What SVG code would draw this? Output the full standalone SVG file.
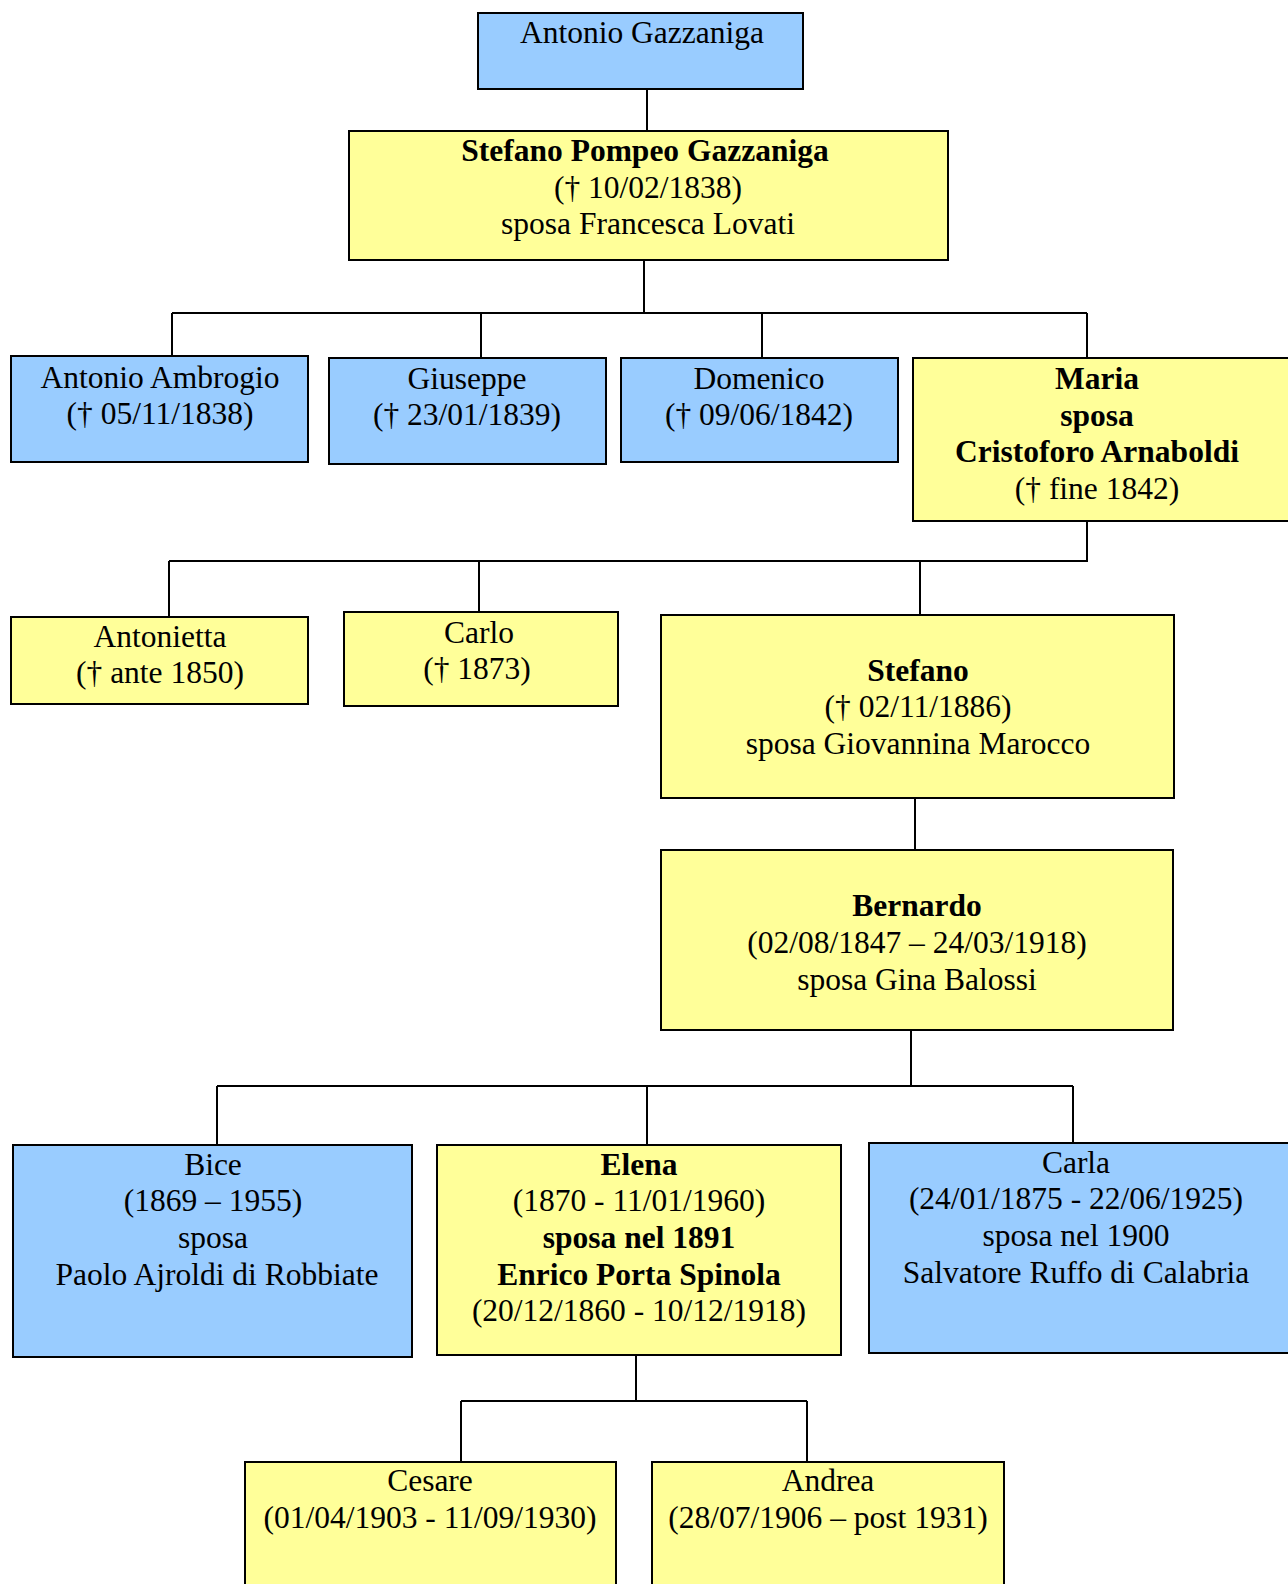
<svg xmlns="http://www.w3.org/2000/svg" width="1288" height="1584" viewBox="0 0 1288 1584">
<style>
.b{fill:#99CCFF;stroke:#000;stroke-width:2}
.y{fill:#FFFF99;stroke:#000;stroke-width:2}
text{font-family:"Liberation Serif","Times New Roman",serif;font-size:31.5px;fill:#000;text-anchor:middle}
.bd{font-weight:bold}
.c{fill:none;stroke:#000;stroke-width:2}
</style>
<rect width="1288" height="1584" fill="#fff"/>
<g id="connectors">
<path class="c" d="M647 89V131"/>
<path class="c" d="M644 260V313M172 313H1087M172 313V356M481 313V358M762 313V358M1087 313V358"/>
<path class="c" d="M1087 521V561H169M169 561V617M479 561V612M920 561V615"/>
<path class="c" d="M915 798V850"/>
<path class="c" d="M911 1030V1086M217 1086H1073M217 1086V1145M647 1086V1145M1073 1086V1143"/>
<path class="c" d="M636 1355V1401M461 1401H807M461 1401V1462M807 1401V1462"/>
</g>
<g id="antonio-gazzaniga"><rect class="b" x="478" y="13" width="325" height="76"/><text x="642" y="43">Antonio Gazzaniga</text></g>
<g id="stefano-pompeo"><rect class="y" x="349" y="131" width="599" height="129"/><text x="645" y="161" class="bd">Stefano Pompeo Gazzaniga</text><text x="648" y="198">(† 10/02/1838)</text><text x="648" y="234">sposa Francesca Lovati</text></g>
<g id="antonio-ambrogio"><rect class="b" x="11" y="356" width="297" height="106"/><text x="160" y="388">Antonio Ambrogio</text><text x="160" y="424">(† 05/11/1838)</text></g>
<g id="giuseppe"><rect class="b" x="329" y="358" width="277" height="106"/><text x="467" y="389">Giuseppe</text><text x="467" y="425">(† 23/01/1839)</text></g>
<g id="domenico"><rect class="b" x="621" y="358" width="277" height="104"/><text x="759" y="389">Domenico</text><text x="759" y="425">(† 09/06/1842)</text></g>
<g id="maria"><rect class="y" x="913" y="358" width="385" height="163"/><text x="1097" y="389" class="bd">Maria</text><text x="1097" y="426" class="bd">sposa</text><text x="1097" y="462" class="bd">Cristoforo Arnaboldi</text><text x="1097" y="499">(† fine 1842)</text></g>
<g id="antonietta"><rect class="y" x="11" y="617" width="297" height="87"/><text x="160" y="647">Antonietta</text><text x="160" y="683">(† ante 1850)</text></g>
<g id="carlo"><rect class="y" x="344" y="612" width="274" height="94"/><text x="479" y="643">Carlo</text><text x="477" y="679">(† 1873)</text></g>
<g id="stefano"><rect class="y" x="661" y="615" width="513" height="183"/><text x="918" y="681" class="bd">Stefano</text><text x="918" y="717">(† 02/11/1886)</text><text x="918" y="754">sposa Giovannina Marocco</text></g>
<g id="bernardo"><rect class="y" x="661" y="850" width="512" height="180"/><text x="917" y="916" class="bd">Bernardo</text><text x="917" y="953">(02/08/1847 – 24/03/1918)</text><text x="917" y="990">sposa Gina Balossi</text></g>
<g id="bice"><rect class="b" x="13" y="1145" width="399" height="212"/><text x="213" y="1175">Bice</text><text x="213" y="1211">(1869 – 1955)</text><text x="213" y="1248">sposa</text><text x="217" y="1285">Paolo Ajroldi di Robbiate</text></g>
<g id="elena"><rect class="y" x="437" y="1145" width="404" height="210"/><text x="639" y="1175" class="bd">Elena</text><text x="639" y="1211">(1870 - 11/01/1960)</text><text x="639" y="1248" class="bd">sposa nel 1891</text><text x="639" y="1285" class="bd">Enrico Porta Spinola</text><text x="639" y="1321">(20/12/1860 - 10/12/1918)</text></g>
<g id="carla"><rect class="b" x="869" y="1143" width="429" height="210"/><text x="1076" y="1173">Carla</text><text x="1076" y="1209">(24/01/1875 - 22/06/1925)</text><text x="1076" y="1246">sposa nel 1900</text><text x="1076" y="1283">Salvatore Ruffo di Calabria</text></g>
<g id="cesare"><rect class="y" x="245" y="1462" width="371" height="140"/><text x="430" y="1491">Cesare</text><text x="430" y="1528">(01/04/1903 - 11/09/1930)</text></g>
<g id="andrea"><rect class="y" x="652" y="1462" width="352" height="140"/><text x="828" y="1491">Andrea</text><text x="828" y="1528">(28/07/1906 – post 1931)</text></g>
</svg>
